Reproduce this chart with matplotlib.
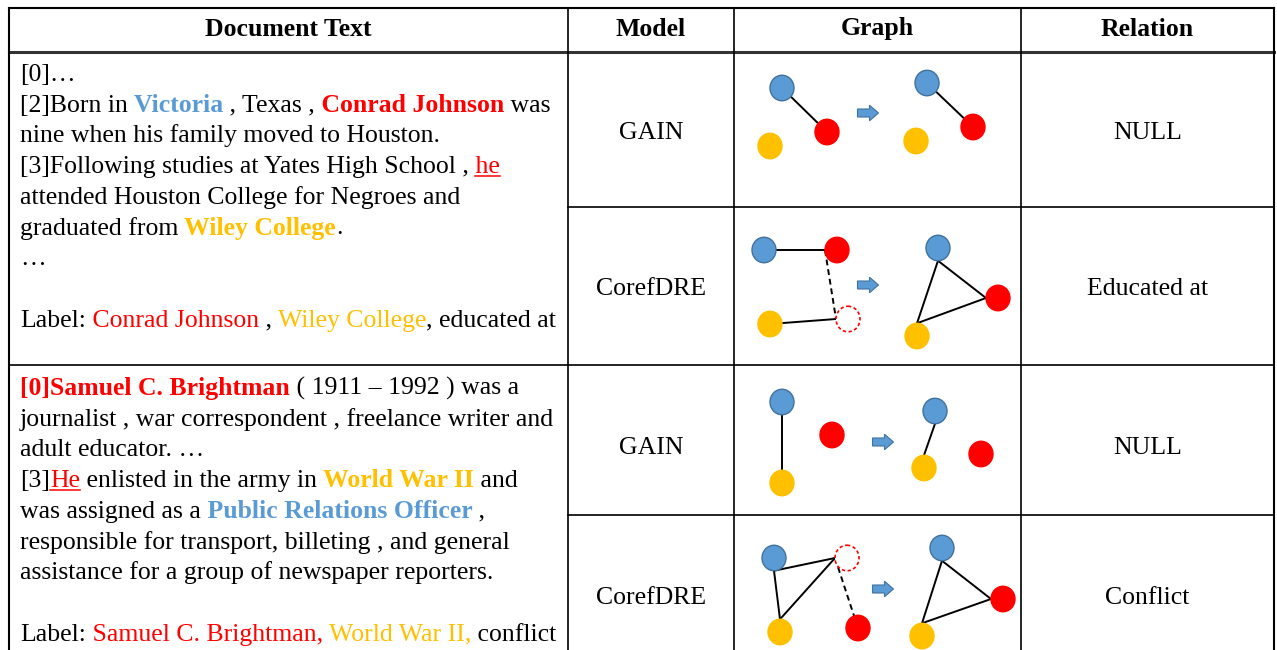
import matplotlib.pyplot as plt
import matplotlib.patches as mpatches

plt.rcParams['font.family'] = ['Liberation Serif', 'DejaVu Serif']

BLUE = "#5B9BD5"
BLUE_EDGE = "#41719C"
RED = "#FF0000"
GOLD = "#FFC000"
K = "#000000"

headers = ["Document Text", "Model", "Graph", "Relation"]
models = ["GAIN", "CorefDRE", "GAIN", "CorefDRE"]
relations = ["NULL", "Educated at", "NULL", "Conflict"]

# each segment: (text, colour, bold, underline); None = empty line
doc1 = [
    [("[0]…", K, False, False)],
    [("[2]Born in", K, False, False), (" Victoria", BLUE, True, False),
     (" , Texas ,", K, False, False), (" Conrad Johnson", RED, True, False),
     (" was", K, False, False)],
    [("nine when his family moved to Houston.", K, False, False)],
    [("[3]Following studies at Yates High School ,", K, False, False),
     (" he", RED, False, True)],
    [("attended Houston College for Negroes and", K, False, False)],
    [("graduated from", K, False, False), (" Wiley College", GOLD, True, False),
     (".", K, False, False)],
    [("…", K, False, False)],
    None,
    [("Label:", K, False, False), (" Conrad Johnson", RED, False, False),
     (" ,", K, False, False), (" Wiley College", GOLD, False, False),
     (", educated at", K, False, False)],
]
doc2 = [
    [("[0]Samuel C. Brightman", RED, True, False),
     (" ( 1911 – 1992 ) was a", K, False, False)],
    [("journalist , war correspondent , freelance writer and", K, False, False)],
    [("adult educator. …", K, False, False)],
    [("[3]", K, False, False), ("He", RED, False, True),
     (" enlisted in the army in", K, False, False),
     (" World War II", GOLD, True, False), (" and", K, False, False)],
    [("was assigned as a", K, False, False),
     (" Public Relations Officer", BLUE, True, False), (" ,", K, False, False)],
    [("responsible for transport, billeting , and general", K, False, False)],
    [("assistance for a group of newspaper reporters.", K, False, False)],
    None,
    [("Label:", K, False, False), (" Samuel C. Brightman,", RED, False, False),
     (" World War II,", GOLD, False, False), (" conflict", K, False, False)],
]

# graphs: node positions inside each graph cell (px from the cell's top-left)
# suffix on a node name in an edge: "<" left edge, "v" bottom, "^" top
g1_nodes = {"b": (48, 36), "r": (93, 80), "y": (36, 94),
            "B": (193, 31), "R": (239, 75), "Y": (182, 89)}
g1_ghost = []
g1_edges = [("b", "r", "-"), ("B", "R", "-")]
g1_arrow = (134, 61)

g2_nodes = {"b": (30, 43), "r": (103, 43), "y": (36, 117), "g": (114, 112),
            "B": (204, 41), "R": (264, 91), "Y": (183, 129)}
g2_ghost = ["g"]
g2_edges = [("b", "r<", "-"), ("r<", "g<", "--"), ("y", "g<", "-"),
            ("Bv", "R<", "-"), ("Bv", "Y^", "-"), ("Y^", "R<", "-")]
g2_arrow = (134, 78)

g3_nodes = {"b": (48, 37), "r": (98, 70), "y": (48, 118),
            "B": (201, 46), "R": (247, 89), "Y": (190, 103)}
g3_ghost = []
g3_edges = [("b", "y", "-"), ("Bv", "Y^", "-")]
g3_arrow = (149, 77)

g4_nodes = {"b": (40, 43), "y": (46, 117), "g": (113, 43), "r": (124, 113),
            "B": (208, 33), "R": (269, 84), "Y": (188, 121)}
g4_ghost = ["g"]
g4_edges = [("bv", "g<", "-"), ("y^", "g<", "-"), ("bv", "y^", "-"),
            ("g<", "r", "--"), ("Bv", "R<", "-"), ("Bv", "Y^", "-"),
            ("Y^", "R<", "-")]
g4_arrow = (149, 74)

graphs = [(g1_nodes, g1_ghost, g1_edges, g1_arrow),
          (g2_nodes, g2_ghost, g2_edges, g2_arrow),
          (g3_nodes, g3_ghost, g3_edges, g3_arrow),
          (g4_nodes, g4_ghost, g4_edges, g4_arrow)]

# layout (pixels)
W, H = 1277, 650
col_x = [9, 568, 734, 1021, 1274]
header_y = 52
row_tops = [52, 207, 365, 515]
row_mid = [133, 289, 448, 598]
FS = 18.5
NODE_W, NODE_H = 24, 25.5

fig = plt.figure(figsize=(W / 100, H / 100), dpi=100)
ax = fig.add_axes([0, 0, 1, 1])
ax.set_xlim(0, W)
ax.set_ylim(H, 0)
ax.axis("off")

# table lines
lc = "black"
ax.plot([col_x[0], col_x[-1]], [8, 8], color=lc, lw=1.5)
ax.plot([col_x[0], col_x[-1]], [header_y, header_y], color="#333333", lw=2.2)
ax.plot([col_x[0], col_x[-1]], [365, 365], color=lc, lw=1.2)
for yy in (207, 515):
    ax.plot([col_x[1], col_x[-1]], [yy, yy], color=lc, lw=1.2)
for i, xx in enumerate(col_x):
    ax.plot([xx, xx], [8, H], color=lc, lw=1.5 if i in (0, 4) else 1.2)

# header
for i, h in enumerate(headers):
    ax.text((col_x[i] + col_x[i + 1]) / 2, 29, h, ha="center", va="center",
            fontsize=FS, fontweight="bold")

for i in range(4):
    ax.text((col_x[1] + col_x[2]) / 2, row_mid[i], models[i], ha="center",
            va="center", fontsize=FS)
    ax.text((col_x[3] + col_x[4]) / 2, row_mid[i], relations[i], ha="center",
            va="center", fontsize=FS)

fig.canvas.draw()
renderer = fig.canvas.get_renderer()


def width_of(s, bold):
    t = ax.text(0, 0, s, fontsize=FS, fontweight="bold" if bold else "normal")
    w = t.get_window_extent(renderer).width
    t.remove()
    return w


def draw_doc(lines, y0, x0=20, step=30.7):
    for i, line in enumerate(lines):
        if line is None:
            continue
        y = y0 + i * step
        x = x0
        for s, c, bold, ul in line:
            t = ax.text(x, y, s, color=c, fontsize=FS, va="baseline",
                        fontweight="bold" if bold else "normal")
            w = t.get_window_extent(renderer).width
            if ul:
                ws = width_of(s.strip(), bold)
                ax.plot([x + w - ws, x + w], [y + 3, y + 3], color=c, lw=1.1)
            x += w


draw_doc(doc1, 81)
draw_doc(doc2, 395)


def draw_graph(nodes, ghosts, edges, arrow, ox, oy):
    def pt(name):
        n, side = name[0], name[1:]
        x, y = nodes[n]
        if side == "<":
            x -= NODE_W / 2
        elif side == "v":
            y += NODE_H / 2
        elif side == "^":
            y -= NODE_H / 2
        return ox + x, oy + y

    for a, b, ls in edges:
        (x1, y1), (x2, y2) = pt(a), pt(b)
        ax.plot([x1, x2], [y1, y2], color="black", lw=1.4,
                ls=(0, (3, 2)) if ls == "--" else "-", zorder=2,
                solid_capstyle="round")
    for n, (x, y) in nodes.items():
        key = n.lower()
        if n in ghosts:
            ax.add_patch(mpatches.Ellipse((ox + x, oy + y), NODE_W, NODE_H,
                                          facecolor="white", edgecolor=RED,
                                          lw=1.2, ls=(0, (2, 1.5)), zorder=3))
            continue
        fc = {"b": BLUE, "r": RED, "y": GOLD}[key]
        ec = BLUE_EDGE if key == "b" else fc
        ax.add_patch(mpatches.Ellipse((ox + x, oy + y), NODE_W, NODE_H,
                                      facecolor=fc, edgecolor=ec, lw=1.0,
                                      zorder=3))
    ax_, ay_ = arrow
    ax.add_patch(mpatches.FancyArrow(ox + ax_ - 10.5, oy + ay_, 21, 0,
                                     width=8, head_width=15.5, head_length=9,
                                     length_includes_head=True,
                                     facecolor=BLUE, edgecolor=BLUE_EDGE,
                                     lw=0.8, zorder=3))


for (nodes, ghosts, edges, arrow), top in zip(graphs, row_tops):
    draw_graph(nodes, ghosts, edges, arrow, col_x[2], top)

fig.savefig("out.png", dpi=100)
